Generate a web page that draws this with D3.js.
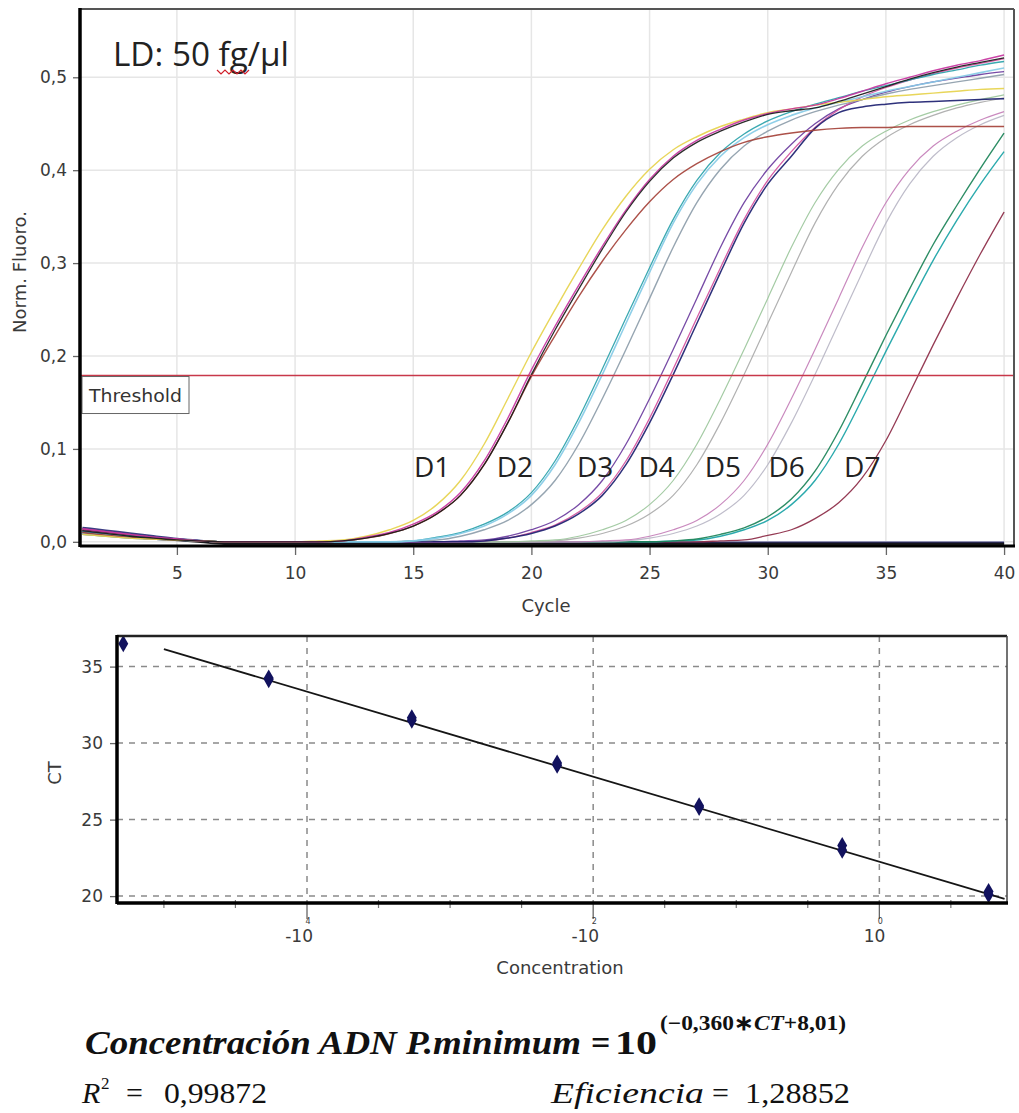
<!DOCTYPE html>
<html><head><meta charset="utf-8">
<script src="https://cdn.jsdelivr.net/npm/d3@7"></script>
<style>body{margin:0;background:#fff}svg{display:block}</style>
</head><body>
<svg id="c" width="1019" height="1113"></svg>
<script>
// ---------------- DATA: amplification plot ----------------
const cycles = [1,2,3,4,5,6,7,8,9,10,11,12,13,14,15,16,17,18,19,20,21,22,23,24,25,26,27,28,29,30,31,32,33,34,35,36,37,38,39,40];

const d1Black   = [0.012,0.009,0.006,0.004,0.002,0.001,0, 0,0,0,0, 0.001,0.004,0.009,0.017,0.030,0.050,0.083,0.128,0.180, 0.228,0.272,0.315,0.355,0.388,0.413,0.430,0.442,0.452,0.460, 0.464,0.467,0.474,0.482,0.490,0.498,0.505,0.511,0.516,0.521];
const d1Magenta = [0.014,0.011,0.008,0.005,0.003,0.001,0, 0,0,0,0, 0.001,0.005,0.010,0.019,0.032,0.053,0.087,0.133,0.185, 0.232,0.276,0.318,0.357,0.390,0.415,0.432,0.444,0.454,0.461, 0.466,0.470,0.477,0.485,0.493,0.500,0.507,0.513,0.518,0.524];
const d1Yellow  = [0.008,0.006,0.004,0.003,0.002,0.001,0, 0,0,0, 0.001,0.002,0.006,0.013,0.023,0.040,0.066,0.105,0.154,0.204, 0.250,0.294,0.336,0.372,0.401,0.422,0.436,0.447,0.455,0.462, 0.466,0.470,0.473,0.476,0.479,0.481,0.483,0.485,0.487,0.488];
const d1Brown   = [0.010,0.007,0.005,0.003,0.002,0.001,0, 0,0,0,0, 0.001,0.004,0.009,0.017,0.030,0.050,0.083,0.128,0.178, 0.222,0.264,0.302,0.336,0.366,0.390,0.407,0.420,0.430,0.436, 0.440,0.443,0.445,0.446,0.446,0.447,0.447,0.447,0.447,0.447];
const d2Blue    = [0.009,0.007,0.005,0.003,0.002,0.001,0, 0,0,0,0,0,0,0, 0.001,0.004,0.009,0.017,0.030,0.050, 0.083,0.128,0.180,0.235,0.290,0.343,0.385,0.415,0.435,0.449, 0.459,0.467,0.473,0.479,0.485,0.490,0.495,0.500,0.505,0.510];
const d2Gray    = [0.008,0.006,0.004,0.003,0.002,0.001,0, 0,0,0,0,0,0,0, 0.001,0.002,0.006,0.013,0.023,0.040, 0.066,0.105,0.154,0.207,0.262,0.317,0.365,0.401,0.426,0.442, 0.454,0.463,0.470,0.476,0.482,0.487,0.491,0.495,0.499,0.503];
const d2Teal    = [0.011,0.008,0.006,0.004,0.002,0.001,0, 0,0,0,0,0,0,0, 0.001,0.005,0.010,0.019,0.032,0.053, 0.087,0.133,0.186,0.241,0.295,0.347,0.389,0.419,0.439,0.453, 0.463,0.471,0.478,0.485,0.491,0.497,0.503,0.508,0.513,0.517];
const d3Navy    = [0.011,0.008,0.006,0.004,0.002,0.001,0, 0,0,0,0,0,0,0,0,0,0, 0.001,0.004,0.009, 0.017,0.030,0.050,0.083,0.128,0.180,0.235,0.290,0.343,0.385, 0.415,0.445,0.462,0.468,0.471,0.473,0.474,0.475,0.476,0.477];
const d3Pink    = [0.014,0.011,0.008,0.005,0.003,0.001,0, 0,0,0,0,0,0,0,0,0,0, 0.001,0.004,0.010, 0.018,0.032,0.053,0.087,0.133,0.186,0.241,0.295,0.347,0.389, 0.420,0.446,0.465,0.479,0.489,0.497,0.504,0.510,0.515,0.520];
const d3Purple  = [0.010,0.007,0.005,0.003,0.002,0.001,0, 0,0,0,0,0,0,0,0,0, 0.001,0.002,0.006,0.013, 0.023,0.040,0.066,0.105,0.154,0.207,0.262,0.317,0.365,0.401, 0.428,0.450,0.466,0.476,0.484,0.490,0.495,0.499,0.503,0.506];
const d4Green   = [0.008,0.006,0.004,0.003,0.002,0.001,0, 0,0,0,0,0,0,0,0,0,0,0,0, 0.001, 0.002,0.006,0.013,0.023,0.040,0.066,0.105,0.154,0.207,0.262, 0.317,0.365,0.401,0.426,0.442,0.454,0.463,0.470,0.476,0.481];
const d4Gray    = [0.009,0.007,0.005,0.003,0.002,0.001,0, 0,0,0,0,0,0,0,0,0,0,0,0,0, 0.001,0.004,0.009,0.017,0.030,0.050,0.083,0.128,0.180,0.235, 0.290,0.343,0.385,0.415,0.435,0.449,0.459,0.467,0.473,0.478];
const d5Violet  = [0.012,0.009,0.006,0.004,0.002,0.001,0, 0,0,0,0,0,0,0,0,0,0,0,0,0, 0,0,0.001,0.002,0.006,0.013,0.023,0.040,0.066,0.105, 0.154,0.207,0.262,0.317,0.365,0.401,0.426,0.442,0.454,0.463];
const d5Gray    = [0.008,0.006,0.004,0.003,0.002,0.001,0, 0,0,0,0,0,0,0,0,0,0,0,0,0, 0,0,0,0.001,0.004,0.009,0.017,0.030,0.050,0.083, 0.128,0.180,0.235,0.290,0.343,0.385,0.415,0.435,0.449,0.459];
const d6Green   = [0.010,0.007,0.005,0.003,0.002,0.001,0, 0,0,0,0,0,0,0,0,0,0,0,0,0, 0,0,0,0,0,0.001,0.003,0.008,0.015,0.027, 0.046,0.076,0.119,0.170,0.222,0.272,0.320,0.362,0.402,0.440];
const d6Teal    = [0.009,0.007,0.005,0.003,0.002,0.001,0, 0,0,0,0,0,0,0,0,0,0,0,0,0, 0,0,0,0,0,0.001,0.002,0.006,0.013,0.023, 0.040,0.066,0.105,0.154,0.205,0.255,0.303,0.346,0.385,0.420];
const d7Maroon  = [0.012,0.009,0.006,0.004,0.002,0.001,0, 0,0,0,0,0,0,0,0,0,0,0,0,0, 0,0,0,0,0,0,0,0.001,0.002,0.007, 0.013,0.025,0.042,0.069,0.109,0.160,0.212,0.262,0.310,0.355];
const ntcBlack  = [0.013,0.010,0.007,0.004,0.002,0,-0.002,-0.002,-0.002,-0.002,-0.002,-0.002,-0.002,-0.002,-0.002,-0.002,-0.002,-0.002,-0.002,-0.002,-0.002,-0.002,-0.002,-0.002,-0.002,-0.002,-0.002,-0.002,-0.002,-0.002,-0.002,-0.002,-0.002,-0.002,-0.002,-0.002,-0.002,-0.002,-0.002,-0.002];
const ntcNavy   = [0.015,0.012,0.009,0.006,0.003,0.001,-0.001,-0.001,-0.001,-0.001,-0.001,-0.001,-0.001,-0.001,-0.001,-0.001,-0.001,-0.001,-0.001,-0.001,-0.001,-0.001,-0.001,-0.001,-0.001,-0.001,-0.001,-0.001,-0.001,-0.001,-0.001,-0.001,-0.001,-0.001,-0.001,-0.001,-0.001,-0.001,-0.001,-0.001];

const thresholdValue = 0.179;
const xTicksTop = [5,10,15,20,25,30,35,40];
const yTicksTop = [0,0.1,0.2,0.3,0.4,0.5];
const dilutionNames  = ["D1","D2","D3","D4","D5","D6","D7"];
const dilutionLabelCycle = [15.8,19.3,22.7,25.3,28.1,30.8,34.0];
const dilutionLabelValue = 0.07;

// ---------------- DATA: standard curve ----------------
const stdConcentration = [5.8,5.8,0.55,0.55,0.055,0.055,0.0056,0.0056,0.00054,0.00054,0.000054,0.000054,0.0000052];
const stdCT            = [20.1,20.3,23.0,23.3,25.8,25.9,28.55,28.7,31.5,31.65,34.15,34.25,36.5];
const fitSlope = -0.360, fitIntercept = 8.01;
const fitConcRange = [0.00001, 7.5];
const ctTicks = [20,25,30,35];
const concMajorTicks = [0.0001, 0.01, 1];
const concMajorExp   = [-4, -2, 0];
const concMinorTicks = [0.00001, 0.0000316, 0.000316, 0.001, 0.00316, 0.0316, 0.1, 0.316, 3.16];

// ---------------- DRAW ----------------
(function(){
const svg = d3.select("#c");
const fmt = d3.formatLocale({decimal:",",thousands:".",grouping:[3],currency:["",""]}).format(".1f");
const tickFont = "DejaVu Sans";

const series = [
  {v:ntcNavy,c:"#2b2b78",w:2.5},{v:ntcBlack,c:"#111",w:2.5},
  {v:d7Maroon,c:"#8c2a45",w:1.3},
  {v:d6Teal,c:"#19a3a6",w:1.4},{v:d6Green,c:"#1b8358",w:1.4},
  {v:d5Gray,c:"#b9b6c6",w:1.2},{v:d5Violet,c:"#c47fb9",w:1.2},
  {v:d4Gray,c:"#aaaaaa",w:1.2},{v:d4Green,c:"#9cc79c",w:1.2},
  {v:d3Purple,c:"#6b3c9e",w:1.3},{v:d3Pink,c:"#d24f9d",w:1.3},{v:d3Navy,c:"#1c2070",w:1.5},
  {v:d2Gray,c:"#8d9daa",w:1.4},{v:d2Teal,c:"#2aa2aa",w:1.3},{v:d2Blue,c:"#86cbe6",w:1.6},
  {v:d1Brown,c:"#a5423a",w:1.4},{v:d1Yellow,c:"#e6d34c",w:1.4},{v:d1Magenta,c:"#c7349f",w:1.4},{v:d1Black,c:"#1a1a1a",w:1.3}
];

// ===== Top chart =====
const T = {l:80, r:1014, t:9, b:546};
const x = d3.scaleLinear().domain([0.9, 40.42]).range([T.l, T.r]);
const y = d3.scaleLinear().domain([-0.0045, 0.5735]).range([T.b, T.t]);
const gTop = svg.append("g");

gTop.append("g").selectAll("line").data(xTicksTop).join("line")
  .attr("x1",d=>x(d)).attr("x2",d=>x(d)).attr("y1",T.t).attr("y2",T.b)
  .attr("stroke","#e6e6e6").attr("stroke-width",1.5);
gTop.append("g").selectAll("line").data(yTicksTop).join("line")
  .attr("x1",T.l).attr("x2",T.r).attr("y1",d=>y(d)).attr("y2",d=>y(d))
  .attr("stroke","#e6e6e6").attr("stroke-width",1.5);

const defs = svg.append("defs");
defs.append("clipPath").attr("id","clipTop")
  .append("rect").attr("x",T.l).attr("y",T.t).attr("width",T.r-T.l).attr("height",T.b-T.t);

const line = d3.line().x((d,i)=>x(cycles[i])).y(d=>y(d)).curve(d3.curveMonotoneX);
const curves = gTop.append("g").attr("clip-path","url(#clipTop)");
series.forEach(s=>{
  curves.append("path").attr("d",line(s.v)).attr("fill","none")
    .attr("stroke",s.c).attr("stroke-width",s.w).attr("stroke-opacity",0.92);
});

// threshold
gTop.append("line").attr("x1",T.l).attr("x2",T.r).attr("y1",y(thresholdValue)).attr("y2",y(thresholdValue))
  .attr("stroke","#c8384a").attr("stroke-width",1.6);
gTop.append("rect").attr("x",T.l+2).attr("y",y(thresholdValue)+1).attr("width",107).attr("height",37)
  .attr("fill","#fff").attr("stroke","#666").attr("stroke-width",1);
gTop.append("text").attr("x",T.l+9).attr("y",y(thresholdValue)+26).text("Threshold")
  .attr("font-family",tickFont).attr("font-size",17.5).attr("fill","#333")
  .attr("textLength",93).attr("lengthAdjust","spacingAndGlyphs");

// frame
gTop.append("line").attr("x1",T.l).attr("x2",T.r).attr("y1",T.t).attr("y2",T.t).attr("stroke","#555").attr("stroke-width",2);
gTop.append("line").attr("x1",T.r).attr("x2",T.r).attr("y1",T.t).attr("y2",T.b).attr("stroke","#555").attr("stroke-width",2);

// axes
const xAxTop = gTop.append("g").attr("transform",`translate(0,${T.b})`)
  .call(d3.axisBottom(x).tickValues(xTicksTop).tickSize(9).tickPadding(12).tickFormat(d3.format("d")));
const yAxTop = gTop.append("g").attr("transform",`translate(${T.l},0)`)
  .call(d3.axisLeft(y).tickValues(yTicksTop).tickSize(7).tickPadding(6).tickFormat(fmt));
[xAxTop,yAxTop].forEach(g=>{
  g.select(".domain").remove();
  g.selectAll(".tick line").attr("stroke","#666").attr("stroke-width",1.3);
  g.selectAll(".tick text").attr("font-family",tickFont).attr("font-size",17).attr("fill","#3a3a3a");
});
gTop.append("line").attr("x1",T.l).attr("x2",T.l).attr("y1",T.t-1).attr("y2",T.b+1).attr("stroke","#000").attr("stroke-width",3.5);
gTop.append("line").attr("x1",T.l).attr("x2",T.r+1).attr("y1",T.b).attr("y2",T.b).attr("stroke","#000").attr("stroke-width",3);

gTop.append("text").attr("x",546).attr("y",612).attr("text-anchor","middle").text("Cycle")
  .attr("font-family",tickFont).attr("font-size",18).attr("fill","#3a3a3a");
gTop.append("text").attr("transform","translate(26,272) rotate(-90)").attr("text-anchor","middle").text("Norm. Fluoro.")
  .attr("font-family",tickFont).attr("font-size",18).attr("fill","#3a3a3a");

// annotations
gTop.append("text").attr("x",T.l+33).attr("y",T.t+57).text("LD: 50 fg/µl")
  .attr("font-family","Open Sans").attr("font-size",32).attr("fill","#222")
  .attr("textLength",176).attr("lengthAdjust","spacingAndGlyphs");
{
  let p = "M217,70";
  for (let i=1;i<=8;i++) p += ` L${217+i*4},${i%2?74:70}`;
  gTop.append("path").attr("d",p).attr("fill","none").attr("stroke","#d0202a").attr("stroke-width",1.2);
}
gTop.append("g").selectAll("text").data(dilutionNames).join("text")
  .attr("x",(d,i)=>x(dilutionLabelCycle[i])).attr("y",y(dilutionLabelValue))
  .attr("text-anchor","middle").text(d=>d)
  .attr("font-family","Open Sans").attr("font-size",28).attr("fill","#222");

// ===== Bottom chart =====
const B = {l:117, r:1007, t:636, b:903};
const xb = d3.scaleLog().domain([0.0000047, 7.8]).range([B.l, B.r]);
const yb = d3.scaleLinear().domain([19.55, 37.0]).range([B.b, B.t]);
const gBot = svg.append("g");

gBot.append("g").selectAll("line").data(ctTicks).join("line")
  .attr("x1",B.l).attr("x2",B.r).attr("y1",d=>yb(d)).attr("y2",d=>yb(d))
  .attr("stroke","#8a8a8a").attr("stroke-width",1.5).attr("stroke-dasharray","6,6");
gBot.append("g").selectAll("line").data(concMajorTicks).join("line")
  .attr("x1",d=>xb(d)).attr("x2",d=>xb(d)).attr("y1",B.t).attr("y2",B.b)
  .attr("stroke","#8a8a8a").attr("stroke-width",1.5).attr("stroke-dasharray","6,6");

defs.append("clipPath").attr("id","clipBot")
  .append("rect").attr("x",B.l).attr("y",B.t).attr("width",B.r-B.l).attr("height",B.b-B.t);

const fitLine = d3.line().x(d=>xb(d)).y(d=>yb((fitIntercept - Math.log10(d))/(-fitSlope)));
gBot.append("path").attr("d",fitLine(fitConcRange)).attr("fill","none").attr("stroke","#151515").attr("stroke-width",1.8);

const sym = d3.symbol().type(d3.symbolDiamond).size(85);
gBot.append("g").attr("clip-path","url(#clipBot)").selectAll("path").data(stdConcentration).join("path")
  .attr("transform",(d,i)=>`translate(${xb(d)},${yb(stdCT[i])})`).attr("d",sym)
  .attr("fill","#12125e");

// frame
gBot.append("line").attr("x1",B.l).attr("x2",B.r).attr("y1",B.t).attr("y2",B.t).attr("stroke","#222").attr("stroke-width",2.5);
gBot.append("line").attr("x1",B.r).attr("x2",B.r).attr("y1",B.t).attr("y2",B.b).attr("stroke","#444").attr("stroke-width",1.5);

const yAxB = gBot.append("g").attr("transform",`translate(${B.l},0)`)
  .call(d3.axisLeft(yb).tickValues(ctTicks).tickSize(7).tickPadding(7).tickFormat(d3.format("d")));
yAxB.select(".domain").remove();
yAxB.selectAll(".tick line").attr("stroke","#666").attr("stroke-width",1.3);
yAxB.selectAll(".tick text").attr("font-family",tickFont).attr("font-size",17).attr("fill","#3a3a3a");

gBot.append("g").selectAll("line").data(concMinorTicks).join("line")
  .attr("x1",d=>xb(d)).attr("x2",d=>xb(d)).attr("y1",B.b-3).attr("y2",B.b+5)
  .attr("stroke","#777").attr("stroke-width",1.2);
gBot.append("g").selectAll("line").data(concMajorTicks).join("line")
  .attr("x1",d=>xb(d)).attr("x2",d=>xb(d)).attr("y1",B.b).attr("y2",B.b+16)
  .attr("stroke","#666").attr("stroke-width",1.3);
const lab = gBot.append("g").selectAll("g").data(concMajorTicks).join("g")
  .attr("transform",d=>`translate(${xb(d)},0)`);
lab.append("text").attr("x",6).attr("y",942).attr("text-anchor","end")
  .text((d,i)=>(concMajorExp[i]<0?"-":"")+"10")
  .attr("font-family",tickFont).attr("font-size",17).attr("fill","#3a3a3a");
lab.append("text").attr("x",1).attr("y",924).attr("text-anchor","middle")
  .text((d,i)=>Math.abs(concMajorExp[i]))
  .attr("font-family",tickFont).attr("font-size",8).attr("fill","#3a3a3a");

gBot.append("line").attr("x1",B.l).attr("x2",B.l).attr("y1",B.t-1).attr("y2",B.b+1).attr("stroke","#000").attr("stroke-width",3.5);
gBot.append("line").attr("x1",B.l).attr("x2",B.r+1).attr("y1",B.b).attr("y2",B.b).attr("stroke","#000").attr("stroke-width",3.5);

gBot.append("text").attr("x",560).attr("y",974).attr("text-anchor","middle").text("Concentration")
  .attr("font-family",tickFont).attr("font-size",18).attr("fill","#3a3a3a");
gBot.append("text").attr("transform","translate(61,773) rotate(-90)").attr("text-anchor","middle").text("CT")
  .attr("font-family",tickFont).attr("font-size",18).attr("fill","#3a3a3a");

// ===== Formula text =====
const serif = "Liberation Serif";
const f = svg.append("g").attr("fill","#111").attr("font-family",serif);
f.append("text").attr("x",85).attr("y",1054).text("Concentración ADN P.minimum")
  .attr("font-size",34).attr("font-weight","bold").attr("font-style","italic")
  .attr("textLength",496).attr("lengthAdjust","spacingAndGlyphs");
f.append("text").attr("x",591).attr("y",1054).text("=")
  .attr("font-size",34).attr("font-weight","bold");
f.append("text").attr("x",615).attr("y",1054).text("10")
  .attr("font-size",34).attr("font-weight","bold").attr("textLength",42).attr("lengthAdjust","spacingAndGlyphs");
const sup = f.append("text").attr("x",660).attr("y",1030)
  .attr("font-size",21).attr("font-weight","bold")
  .attr("textLength",186).attr("lengthAdjust","spacingAndGlyphs");
sup.append("tspan").text("(−0,360∗");
sup.append("tspan").attr("font-style","italic").text("CT");
sup.append("tspan").text("+8,01)");

f.append("text").attr("x",82).attr("y",1103).text("R").attr("font-size",30).attr("font-style","italic");
f.append("text").attr("x",101).attr("y",1089).text("2").attr("font-size",17);
f.append("text").attr("x",126).attr("y",1103).text("=").attr("font-size",30);
f.append("text").attr("x",164).attr("y",1103).text("0,99872").attr("font-size",30)
  .attr("textLength",103).attr("lengthAdjust","spacingAndGlyphs");
f.append("text").attr("x",551).attr("y",1103).text("Eficiencia").attr("font-size",30).attr("font-style","italic")
  .attr("textLength",153).attr("lengthAdjust","spacingAndGlyphs");
f.append("text").attr("x",712).attr("y",1103).text("=").attr("font-size",30);
f.append("text").attr("x",745).attr("y",1103).text("1,28852").attr("font-size",30)
  .attr("textLength",105).attr("lengthAdjust","spacingAndGlyphs");
})();
</script>
</body></html>
